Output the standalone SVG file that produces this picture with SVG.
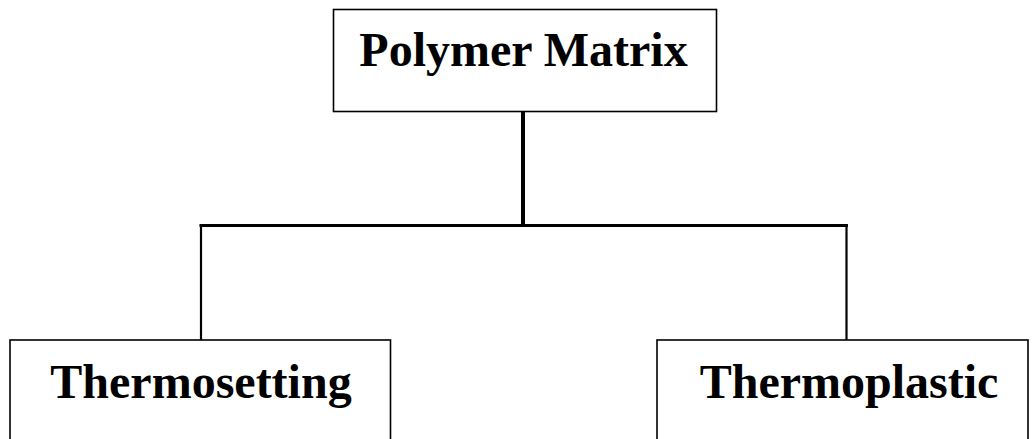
<svg xmlns="http://www.w3.org/2000/svg" width="1035" height="439" viewBox="0 0 1035 439">
<style>
.box{fill:#fff;stroke:#000;stroke-width:1.6}
.lbl{font-family:"Liberation Serif","Times New Roman",serif;font-weight:bold;font-size:48px;fill:#000;text-anchor:middle}
.con{stroke:#000;fill:none}
</style>
<rect width="1035" height="439" fill="#fff"/>
<g id="connectors">
<line class="con" x1="523" y1="111" x2="523" y2="226" stroke-width="4"/>
<line class="con" x1="199.5" y1="225.5" x2="848" y2="225.5" stroke-width="3"/>
<line class="con" x1="201" y1="225" x2="201" y2="340" stroke-width="2.2"/>
<line class="con" x1="846.5" y1="225" x2="846.5" y2="340" stroke-width="2.2"/>
</g>
<g id="polymer-matrix">
<rect class="box" x="333.5" y="9.5" width="383" height="102"/>
<text class="lbl" x="523.5" y="65.5">Polymer Matrix</text>
</g>
<g id="thermosetting">
<rect class="box" x="10" y="340" width="380.5" height="120"/>
<text class="lbl" x="201" y="397.5">Thermosetting</text>
</g>
<g id="thermoplastic">
<rect class="box" x="657" y="340" width="371" height="120"/>
<text class="lbl" x="849" y="397.5">Thermoplastic</text>
</g>
</svg>
